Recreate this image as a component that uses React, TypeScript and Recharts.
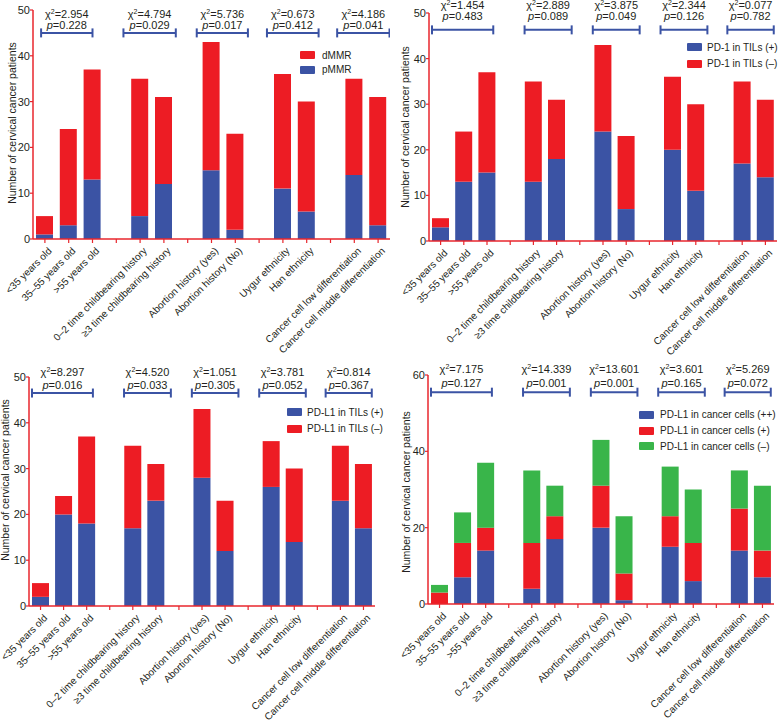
import React from 'react';
import { BarChart, Bar, XAxis, YAxis, ReferenceLine, Legend } from 'recharts';

const FONT = '"Liberation Sans", Arial, Helvetica, sans-serif';
const RED = '#ED1C24';
const BLUE = '#3B53A4';
const GREEN = '#39B54A';
const AXIS = '#E8262D';
const TEXT = '#231F20';

// 15 slots on the x axis: bars and blank gaps between groups
const categories = [
  '<35 years old', '35–55 years old', '>55 years old', '',
  '0–2 time childbearing history', '≥3 time childbearing history', '',
  'Abortion history (yes)', 'Abortion history (No)', '',
  'Uygur ethnicity', 'Han ethnicity', '',
  'Cancer cell low differentiation', 'Cancer cell middle differentiation',
];
const categories4 = [
  '<35 years old', '35–55 years old', '>55 years old', '',
  '0–2 time childbear history', '≥3 time childbearing history', '',
  'Abortion history (yes)', 'Abortion history (No)', '',
  'Uygur ethnicity', 'Han ethnicity', '',
  'Cancer cell low differentiation', 'Cancer cell middle differentiation',
];
const barSlots = [0, 1, 2, 4, 5, 7, 8, 10, 11, 13, 14];
const allSlots = [0, 1, 2, 3, 4, 5, 6, 7, 8, 9, 10, 11, 12, 13, 14];

// Panel 1: MMR
const pMMR = [1, 3, 13, 5, 12, 15, 2, 11, 6, 14, 3];
const dMMR = [4, 21, 24, 30, 19, 28, 21, 25, 24, 21, 28];
const chi1 = ['2.954', '4.794', '5.736', '0.673', '4.186'];
const p1 = ['0.228', '0.029', '0.017', '0.412', '0.041'];

// Panel 2: PD-1 in TILs
const pd1Pos = [3, 13, 15, 13, 18, 24, 7, 20, 11, 17, 14];
const pd1Neg = [2, 11, 22, 22, 13, 19, 16, 16, 19, 18, 17];
const chi2 = ['1.454', '2.889', '3.875', '2.344', '0.077'];
const p2 = ['0.483', '0.089', '0.049', '0.126', '0.782'];

// Panel 3: PD-L1 in TILs
const pdl1TilPos = [2, 20, 18, 17, 23, 28, 12, 26, 14, 23, 17];
const pdl1TilNeg = [3, 4, 19, 18, 8, 15, 11, 10, 16, 12, 14];
const chi3 = ['8.297', '4.520', '1.051', '3.781', '0.814'];
const p3 = ['0.016', '0.033', '0.305', '0.052', '0.367'];

// Panel 4: PD-L1 in cancer cells
const pdl1CcPP = [0, 7, 14, 4, 17, 20, 1, 15, 6, 14, 7];
const pdl1CcP = [3, 9, 6, 12, 6, 11, 7, 8, 10, 11, 7];
const pdl1CcN = [2, 8, 17, 19, 8, 12, 15, 13, 14, 10, 17];
const chi4 = ['7.175', '14.339', '13.601', '3.601', '5.269'];
const p4 = ['0.127', '0.001', '0.001', '0.165', '0.072'];

// bracket spans over the groups, in x-slot units
const spans1 = [[-0.16, 2.0], [3.3, 5.5], [6.38, 8.53], [9.33, 11.5], [12.28, 14.48]];
const spansB = [[-0.37, 2.27], [3.62, 5.65], [6.56, 8.58], [9.48, 11.5], [12.36, 14.36]];

type Series = { key: string; name: string; color: string; values: number[] };

const buildRows = (series: Series[]) =>
  barSlots.map((x, i) => {
    const row: any = { x };
    series.forEach((s) => { row[s.key] = s.values[i]; });
    return row;
  });

const XTick = (props: any) => {
  const { x, y, payload, labels } = props;
  const label = labels[payload.value];
  if (!label) return <g />;
  const ax = x + 5;
  const ay = y + 4;
  return (
    <text x={ax} y={ay} transform={`rotate(-45 ${ax} ${ay})`} textAnchor="end" dy="0.35em"
      fontSize={10} fill={TEXT} fontFamily={FONT}>{label}</text>
  );
};

const AxisTitle = (props: any) => {
  const { tx, ty } = props;
  return (
    <text x={tx} y={ty} transform={`rotate(-90 ${tx} ${ty})`} textAnchor="middle" dy="0.35em"
      fontSize={10.5} fill={TEXT} fontFamily={FONT}>Number of cervical cancer patients</text>
  );
};

const Bracket = (props: any) => {
  const { x1, x2, y1, chi, p, offChi, offP } = props;
  const cx = (x1 + x2) / 2;
  return (
    <g>
      <line x1={x1} x2={x2} y1={y1} y2={y1} stroke={BLUE} strokeWidth={2} />
      <line x1={x1} x2={x1} y1={y1 - 4.5} y2={y1 + 4.5} stroke={BLUE} strokeWidth={2} />
      <line x1={x2} x2={x2} y1={y1 - 4.5} y2={y1 + 4.5} stroke={BLUE} strokeWidth={2} />
      <text x={cx} y={y1 - offChi} textAnchor="middle" fontSize={11} fill={TEXT} fontFamily={FONT}>
        χ<tspan dy={-4} fontSize={7}>2</tspan><tspan dy={4}>={chi}</tspan>
      </text>
      <text x={cx} y={y1 - offP} textAnchor="middle" fontSize={11} fill={TEXT} fontFamily={FONT}>
        <tspan fontStyle="italic">p</tspan>={p}
      </text>
    </g>
  );
};

type PanelProps = {
  left: number; top: number; width: number; height: number;
  margin: any; yAxisWidth: number; xAxisHeight: number;
  yMax: number; yTicks: number[]; labels: string[];
  series: Series[]; legendOrder: number[];
  legendPos: { left: number; top: number; row: number; gap: number };
  chi: string[]; p: string[]; spans: number[][]; bracketY: number;
  offChi: number; offP: number; title: { x: number; y: number };
};

const Panel = (pp: PanelProps) => {
  const rows = buildRows(pp.series);
  const legendItems = pp.legendOrder.map((i) => pp.series[i]);
  return (
    <div style={{ position: 'absolute', left: pp.left, top: pp.top, width: pp.width, height: pp.height }}>
      <BarChart width={pp.width} height={pp.height} data={rows} margin={pp.margin} barSize={17}>
        <XAxis type="number" dataKey="x" domain={[-0.5, 14.5]} ticks={allSlots} interval={0}
          height={pp.xAxisHeight} tickSize={4} tickMargin={2}
          axisLine={{ stroke: AXIS, strokeWidth: 1.5 }} tickLine={{ stroke: AXIS, strokeWidth: 1.2 }}
          tick={<XTick labels={pp.labels} />} />
        <YAxis type="number" domain={[0, pp.yMax]} ticks={pp.yTicks} interval={0} width={pp.yAxisWidth}
          tickSize={3} tickMargin={0}
          axisLine={{ stroke: AXIS, strokeWidth: 1.5 }} tickLine={{ stroke: AXIS, strokeWidth: 1.2 }}
          tick={{ fontSize: 11, fill: TEXT, fontFamily: FONT }}
          label={<AxisTitle tx={pp.title.x} ty={pp.title.y} />} />
        {pp.series.map((s) => (
          <Bar key={s.key} dataKey={s.key} name={s.name} stackId="a" fill={s.color} barSize={17}
            isAnimationActive={false} />
        ))}
        {pp.spans.map((sp, i) => (
          <ReferenceLine key={i} ifOverflow="visible"
            segment={[{ x: sp[0], y: pp.bracketY }, { x: sp[1], y: pp.bracketY }]}
            shape={(props: any) => (
              <Bracket {...props} chi={pp.chi[i]} p={pp.p[i]} offChi={pp.offChi} offP={pp.offP} />
            )} />
        ))}
        <Legend layout="vertical" align="center" verticalAlign="middle"
          wrapperStyle={{ left: pp.legendPos.left, top: pp.legendPos.top, width: 'auto', height: 'auto' }}
          content={() => (
            <div style={{ fontFamily: FONT, fontSize: 10, color: TEXT }}>
              {legendItems.map((s) => (
                <div key={s.key} style={{ display: 'flex', alignItems: 'center', height: pp.legendPos.row, whiteSpace: 'nowrap' }}>
                  <span style={{ display: 'inline-block', width: 15, height: 8, background: s.color, marginRight: pp.legendPos.gap, borderRadius: 1 }} />
                  <span>{s.name}</span>
                </div>
              ))}
            </div>
          )} />
      </BarChart>
    </div>
  );
}

export default function App() {
  return (
    <div style={{ position: 'absolute', left: 0, top: 0, width: 780, height: 722, background: '#fff', overflow: 'hidden' }}>
      <Panel left={0} top={0} width={390} height={360}
        margin={{ top: 10, right: 0, left: 0, bottom: 0 }} yAxisWidth={33} xAxisHeight={121}
        yMax={50} yTicks={[0, 10, 20, 30, 40, 50]} labels={categories}
        series={[
          { key: 'pMMR', name: 'pMMR', color: BLUE, values: pMMR },
          { key: 'dMMR', name: 'dMMR', color: RED, values: dMMR },
        ]}
        legendOrder={[1, 0]}
        legendPos={{ left: 300, top: 48, row: 14.5, gap: 7 }}
        chi={chi1} p={p1} spans={spans1} bracketY={45} offChi={15} offP={4}
        title={{ x: 12, y: 123 }} />
      <Panel left={390} top={0} width={390} height={360}
        margin={{ top: 13, right: 3, left: 0, bottom: 0 }} yAxisWidth={39} xAxisHeight={119}
        yMax={50} yTicks={[0, 10, 20, 30, 40, 50]} labels={categories}
        series={[
          { key: 'pos', name: 'PD-1 in TILs (+)', color: BLUE, values: pd1Pos },
          { key: 'neg', name: 'PD-1 in TILs (–)', color: RED, values: pd1Neg },
        ]}
        legendOrder={[0, 1]}
        legendPos={{ left: 297, top: 39, row: 16.5, gap: 5 }}
        chi={chi2} p={p2} spans={spansB} bracketY={46.3} offChi={21} offP={10}
        title={{ x: 15, y: 127 }} />
      <Panel left={0} top={360} width={390} height={362}
        margin={{ top: 17, right: 15, left: 0, bottom: 0 }} yAxisWidth={29} xAxisHeight={116}
        yMax={50} yTicks={[0, 10, 20, 30, 40, 50]} labels={categories}
        series={[
          { key: 'pos', name: 'PD-L1 in TILs (+)', color: BLUE, values: pdl1TilPos },
          { key: 'neg', name: 'PD-L1 in TILs (–)', color: RED, values: pdl1TilNeg },
        ]}
        legendOrder={[0, 1]}
        legendPos={{ left: 287, top: 44, row: 16.5, gap: 5 }}
        chi={chi3} p={p3} spans={spansB} bracketY={46.5} offChi={17} offP={4}
        title={{ x: 5, y: 120 }} />
      <Panel left={390} top={360} width={390} height={362}
        margin={{ top: 15, right: 6, left: 0, bottom: 0 }} yAxisWidth={38} xAxisHeight={118}
        yMax={60} yTicks={[0, 20, 40, 60]} labels={categories4}
        series={[
          { key: 'pp', name: 'PD-L1 in cancer cells (++)', color: BLUE, values: pdl1CcPP },
          { key: 'p', name: 'PD-L1 in cancer cells (+)', color: RED, values: pdl1CcP },
          { key: 'n', name: 'PD-L1 in cancer cells (–)', color: GREEN, values: pdl1CcN },
        ]}
        legendOrder={[0, 1, 2]}
        legendPos={{ left: 249, top: 47, row: 15.7, gap: 6 }}
        chi={chi4} p={p4} spans={spansB} bracketY={55.5} offChi={19} offP={5}
        title={{ x: 16, y: 132 }} />
    </div>
  );
}
